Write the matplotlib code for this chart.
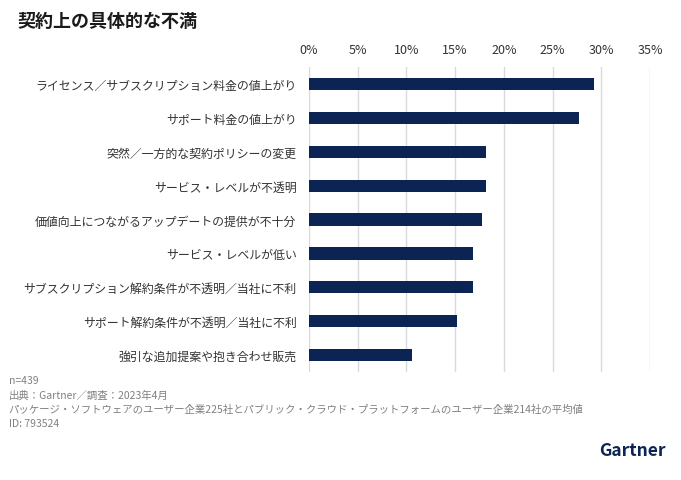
import matplotlib
matplotlib.use("Agg")
import matplotlib.pyplot as plt
from matplotlib.ticker import PercentFormatter

plt.rcParams['font.family'] = ['Noto Sans CJK JP', 'DejaVu Sans']

categories = [
    "ライセンス／サブスクリプション料金の値上がり",
    "サポート料金の値上がり",
    "突然／一方的な契約ポリシーの変更",
    "サービス・レベルが不透明",
    "価値向上につながるアップデートの提供が不十分",
    "サービス・レベルが低い",
    "サブスクリプション解約条件が不透明／当社に不利",
    "サポート解約条件が不透明／当社に不利",
    "強引な追加提案や抱き合わせ販売",
]
values = [29.3, 27.7, 18.2, 18.2, 17.8, 16.8, 16.8, 15.2, 10.6]
xticks = [0, 5, 10, 15, 20, 25, 30, 35]

notes = [
    "n=439",
    "出典：Gartner／調査：2023年4月",
    "パッケージ・ソフトウェアのユーザー企業225社とパブリック・クラウド・プラットフォームのユーザー企業214社の平均値",
    "ID: 793524",
]

fig = plt.figure(figsize=(6.81, 4.81), dpi=100)
ax = fig.add_axes([0.4537, 0.2245, 0.5008, 0.6341])

pos = list(range(len(categories)))
ax.barh(pos, values, height=0.36, color="#0c2454", zorder=3)
ax.set_ylim(len(categories) - 0.5, -0.5)
ax.set_yticks(pos)
ax.set_yticklabels(categories, fontsize=8.6, color="#333333")
ax.set_xlim(0, 35)
ax.set_xticks(xticks)
ax.xaxis.set_major_formatter(PercentFormatter(decimals=0))
ax.xaxis.tick_top()
ax.tick_params(axis="x", length=0, labelsize=9, colors="#333333", pad=8)
ax.tick_params(axis="y", length=0, pad=9)
ax.grid(axis="x", color="#d9d9d9", linewidth=1, zorder=0)
for s in ax.spines.values():
    s.set_visible(False)

fig.text(0.026, 0.955, "契約上の具体的な不満", fontsize=13, fontweight="bold",
         color="#1a1a1a", va="center")

for i, line in enumerate(notes):
    fig.text(0.013, 0.207 - i * 0.0297, line, fontsize=7.5, color="#808080", va="center")

fig.text(0.978, 0.063, "Gartner", fontsize=12.5, fontweight="bold", color="#0c2454",
         ha="right", va="center")

fig.savefig("out.png", dpi=100)
